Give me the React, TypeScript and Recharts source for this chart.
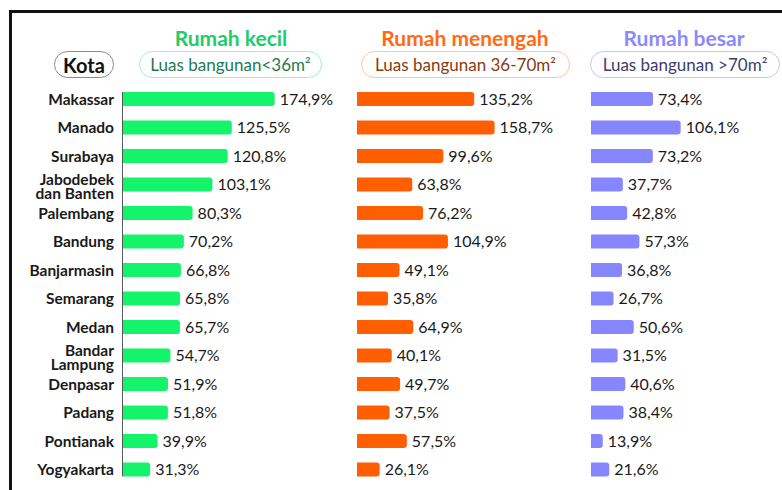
import * as React from "react"
import { BarChart, Bar, XAxis, YAxis, LabelList, Rectangle } from "recharts"

const cities = [
  "Makassar", "Manado", "Surabaya", "Jabodebek\ndan Banten", "Palembang", "Bandung", "Banjarmasin",
  "Semarang", "Medan", "Bandar\nLampung", "Denpasar", "Padang", "Pontianak", "Yogyakarta",
]
const smallHouse = [174.9, 125.5, 120.8, 103.1, 80.3, 70.2, 66.8, 65.8, 65.7, 54.7, 51.9, 51.8, 39.9, 31.3]
const mediumHouse = [135.2, 158.7, 99.6, 63.8, 76.2, 104.9, 49.1, 35.8, 64.9, 40.1, 49.7, 37.5, 57.5, 26.1]
const largeHouse = [73.4, 106.1, 73.2, 37.7, 42.8, 57.3, 36.8, 26.7, 50.6, 31.5, 40.6, 38.4, 13.9, 21.6]

const groups = [
  { key: "small", title: "Rumah kecil", sub: "Luas bangunan<36m²", values: smallHouse, color: "#14f46a", titleColor: "#22cc6c", pillBorder: "#a6ead0", pillText: "#1e7a50" },
  { key: "medium", title: "Rumah menengah", sub: "Luas bangunan 36-70m²", values: mediumHouse, color: "#ff5f00", titleColor: "#ff6a12", pillBorder: "#ffc4a2", pillText: "#8a3a12" },
  { key: "large", title: "Rumah besar", sub: "Luas bangunan >70m²", values: largeHouse, color: "#8686ff", titleColor: "#8a8afc", pillBorder: "#c4c4f6", pillText: "#3d3d6b" },
]

const CHART_H = 490
const M_TOP = 85
const M_BOTTOM = 6
const BAND = (CHART_H - M_TOP - M_BOTTOM) / cities.length

const fmt = (v: number) => v.toFixed(1).replace(".", ",") + "%"

const makeShape = (color: string) => (props: any) => {
  const { x, y, width, height, index } = props
  const gap = (BAND - height) / 2
  const y1 = index === 0 ? y : y - gap
  const y2 = index === cities.length - 1 ? y + height : y + height + gap
  return (
    <g>
      <Rectangle x={x} y={y} width={width} height={height} radius={[0, 3, 3, 0]} fill={color} />
      <line x1={x - 0.5} x2={x - 0.5} y1={y1} y2={y2} stroke="#555" strokeWidth={1} />
    </g>
  )
}

const CityTick = (props: any) => {
  const { x, y, payload } = props
  const lines = String(payload.value).split("\n")
  const lh = 14
  const shift = lines.length > 1 ? 2 : 0
  return (
    <text x={x} y={y} textAnchor="end" fontFamily="Lato" fontWeight={700} fontSize={15.5} fill="#1a1a1a">
      {lines.map((l, i) => (
        <tspan key={i} x={x} dy={i === 0 ? 5.5 + shift - ((lines.length - 1) * lh) / 2 : lh}>{l}</tspan>
      ))}
    </text>
  )
}

// chart placement: left edge of plot and px per percent
const layout = [
  { left: 0, axisW: 123, k: 0.867, right: 54 },
  { left: 357, axisW: 0, k: 0.867, right: 70 },
  { left: 591, axisW: 0, k: 0.845, right: 30 },
]

const Pill = ({ left, width, border, color, children, bold, size }: any) => (
  <div style={{
    position: "absolute", left, top: 51, width, height: 27, boxSizing: "border-box",
    border: `1px solid ${border}`, borderRadius: 14, display: "flex", alignItems: "center",
    justifyContent: "center", color, fontSize: size, fontWeight: bold ? 700 : 400, whiteSpace: "nowrap",
  }}>{children}</div>
)

export default function App() {
  const data = cities.map((c, i) => ({ city: c, small: smallHouse[i], medium: mediumHouse[i], large: largeHouse[i] }))
  const titleCenters = [231, 465, 684]
  const pills = [
    { left: 139, width: 183 },
    { left: 361, width: 209 },
    { left: 590, width: 190 },
  ]
  return (
    <div style={{ position: "absolute", left: 0, top: 0, width: 782, height: 490, overflow: "hidden", background: "#fff", fontFamily: "Lato" }}>
      <div style={{ position: "absolute", left: 9, top: 10, width: 900, height: 600, border: "3px solid #111", boxSizing: "border-box" }} />
      {groups.map((g, i) => (
        <div key={g.key} style={{ position: "absolute", left: titleCenters[i] - 150, width: 300, top: 25, textAlign: "center", fontSize: 21, fontWeight: 700, color: g.titleColor }}>
          {g.title}
        </div>
      ))}
      <Pill left={54} width={60} border="#8a8a8a" color="#111" bold size={20}>Kota</Pill>
      {groups.map((g, i) => (
        <Pill key={g.key} left={pills[i].left} width={pills[i].width} border={g.pillBorder} color={g.pillText} size={17}>{g.sub}</Pill>
      ))}
      {groups.map((g, i) => {
        const l = layout[i]
        const plotW = 200 * l.k
        return (
          <div key={g.key} style={{ position: "absolute", left: l.left, top: 0 }}>
            <BarChart
              width={l.axisW + plotW + l.right}
              height={CHART_H}
              data={data}
              layout="vertical"
              margin={{ top: M_TOP, bottom: M_BOTTOM, left: 0, right: l.right }}
            >
              <XAxis type="number" domain={[0, 200]} hide />
              {i === 0 ? (
                <YAxis type="category" dataKey="city" width={l.axisW} axisLine={false} tickLine={false} tick={<CityTick />} tickMargin={3} interval={0} />
              ) : (
                <YAxis type="category" dataKey="city" hide />
              )}
              <Bar dataKey={g.key} barSize={14} fill={g.color} shape={makeShape(g.color)} isAnimationActive={false}>
                <LabelList dataKey={g.key} position="right" offset={5} formatter={(v: any) => fmt(Number(v))} fill="#1a1a1a" fontSize={16} fontFamily="Lato" />
              </Bar>
            </BarChart>
          </div>
        )
      })}
    </div>
  )
}
